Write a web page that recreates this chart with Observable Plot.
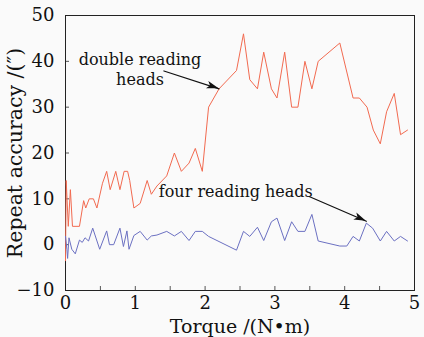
<!DOCTYPE html>
<html>
<head>
<meta charset="utf-8">
<script src="https://cdn.jsdelivr.net/npm/d3@7"></script>
<script src="https://cdn.jsdelivr.net/npm/@observablehq/plot@0.6"></script>
<style>
  html, body { margin: 0; padding: 0; background: #fafafa; }
  #chart svg { display: block; }
</style>
</head>
<body>
<div id="chart"></div>
<script>
// Series: double reading heads
const torqueDouble = [0, 0.01, 0.04, 0.07, 0.1, 0.2, 0.26, 0.29, 0.34, 0.4, 0.45, 0.53, 0.59, 0.64, 0.72, 0.78, 0.84, 0.89, 0.92, 0.98, 1.07, 1.17, 1.23, 1.31, 1.45, 1.56, 1.66, 1.77, 1.86, 1.96, 2.05, 2.2, 2.45, 2.55, 2.64, 2.75, 2.84, 2.95, 3.03, 3.14, 3.24, 3.33, 3.43, 3.53, 3.62, 3.93, 4.12, 4.21, 4.32, 4.41, 4.51, 4.6, 4.71, 4.8, 4.9];
const doubleHeads  = [-3.5, 14, 4, 12, 4, 4, 9.6, 8, 10, 10, 8, 13.4, 16, 12, 16, 12, 16, 16, 14, 8, 9, 14, 11, 12.8, 15, 20, 16, 17.8, 21, 16, 30, 34, 38, 46, 36, 34, 42, 34, 32, 42, 30, 30, 40, 34, 40, 44, 32, 32, 30, 25, 22, 29, 33, 24, 25];

// Series: four reading heads
const torqueFour = [0, 0.02, 0.03, 0.05, 0.09, 0.14, 0.2, 0.24, 0.28, 0.33, 0.39, 0.49, 0.59, 0.63, 0.69, 0.78, 0.83, 0.88, 0.91, 0.98, 1.07, 1.17, 1.23, 1.31, 1.45, 1.56, 1.66, 1.77, 1.86, 1.96, 2.05, 2.45, 2.55, 2.64, 2.75, 2.84, 2.95, 3.03, 3.14, 3.24, 3.33, 3.43, 3.53, 3.62, 3.93, 4.03, 4.12, 4.21, 4.31, 4.4, 4.51, 4.6, 4.71, 4.8, 4.9];
const fourHeads  = [1.8, -1, -3, 1.5, -1, -2, 1, 0.5, 1.5, 0.8, 3.6, -1, 3, 0, 0, 3.6, -0.4, 3, -1, 2, 2.9, 1, 1.9, 2.1, 2.9, 1.9, 2.9, 0.9, 2.9, 2.9, 1.8, -1.2, 2.9, 1.8, 3.8, 0.9, 5, 5.8, 0.9, 5, 2.9, 2.9, 6.6, 0.8, -0.3, -0.3, 1.8, 0.8, 4.7, 3.6, 0.8, 2.9, 0.8, 1.8, 0.8];

// Ticks
const xTickLabels = [0, 1, 2, 3, 4, 5];
const xTickMarks = [0, 0.5, 1, 1.5, 2, 2.5, 3, 3.5, 4, 4.5, 5];
const yTickLabels = [-10, 0, 10, 20, 30, 40, 50];

// Annotations
const labelTexts = ["double reading\nheads", "four reading heads"];
const labelX = [1.067, 2.44];
const labelY = [38.4, 11.8];
const arrowFrom = [[1.41, 37.9], [3.49, 10.5]];
const arrowTo = [[2.2, 34.0], [4.31, 5.1]];

const doubleData = torqueDouble.map((t, i) => ({t, v: doubleHeads[i]}));
const fourData = torqueFour.map((t, i) => ({t, v: fourHeads[i]}));
const labels = labelTexts.map((text, i) => ({text, x: labelX[i], y: labelY[i]}));
const arrows = arrowFrom.map((a, i) => ({x1: a[0], y1: a[1], x2: arrowTo[i][0], y2: arrowTo[i][1]}));

const font = "DejaVu Serif";

const chart = Plot.plot({
  width: 424,
  height: 337,
  marginLeft: 65,
  marginRight: 10,
  marginTop: 15,
  marginBottom: 47,
  style: {fontFamily: font, background: "#fafafa", color: "#111", overflow: "visible"},
  x: {domain: [0, 5]},
  y: {domain: [-10, 50]},
  marks: [
    Plot.axisX({ticks: xTickMarks, tickSize: -4, text: null, stroke: "#555"}),
    Plot.axisX({ticks: xTickLabels, tickSize: 0, tickPadding: 6, fontSize: 18, tickFormat: d => String(d), label: "Torque /(N•m)", labelAnchor: "center", labelOffset: 42, labelArrow: "none"}),
    Plot.axisY({ticks: yTickLabels, tickSize: -4, text: null, stroke: "#555"}),
    Plot.axisY({ticks: yTickLabels, tickSize: 0, tickPadding: 11, fontSize: 18, label: "Repeat accuracy /(″)", labelAnchor: "center", labelOffset: 58, labelArrow: "none"}),
    Plot.frame({stroke: "#222"}),
    Plot.line(doubleData, {x: "t", y: "v", stroke: "#f26a50", strokeWidth: 1}),
    Plot.line(fourData, {x: "t", y: "v", stroke: "#6b70c2", strokeWidth: 1}),
    Plot.arrow(arrows, {x1: "x1", y1: "y1", x2: "x2", y2: "y2", stroke: "#111", strokeWidth: 1.2, headLength: 0, bend: 0}),
    Plot.text(labels, {x: "x", y: "y", text: "text", fontSize: 16, lineHeight: 1.25, fill: "#111", fontFamily: font})
  ]
});

// Larger axis labels
chart.querySelectorAll("[aria-label='x-axis label'] text").forEach(t => t.setAttribute("font-size", 19));
chart.querySelectorAll("[aria-label='y-axis label'] text").forEach(t => t.setAttribute("font-size", 20.5));

// Filled arrowheads, positioned through the chart's own scales
const sx = chart.scale("x"), sy = chart.scale("y");
const ns = "http://www.w3.org/2000/svg";
const headGroup = document.createElementNS(ns, "g");
headGroup.setAttribute("aria-label", "arrowheads");
for (const a of arrows) {
  const px1 = sx.apply(a.x1), py1 = sy.apply(a.y1), px2 = sx.apply(a.x2), py2 = sy.apply(a.y2);
  const ang = Math.atan2(py2 - py1, px2 - px1);
  const L = 12, W = 3.8;
  const c = Math.cos(ang), s = Math.sin(ang);
  const bx = px2 - L * c, by = py2 - L * s;
  const nx = px2 - 0.75 * L * c, ny = py2 - 0.75 * L * s;
  const p = document.createElementNS(ns, "path");
  p.setAttribute("d", `M${px2},${py2}L${bx - s * W},${by + c * W}L${nx},${ny}L${bx + s * W},${by - c * W}Z`);
  p.setAttribute("fill", "#111");
  headGroup.appendChild(p);
}
chart.appendChild(headGroup);
document.getElementById("chart").appendChild(chart);
</script>
</body>
</html>
